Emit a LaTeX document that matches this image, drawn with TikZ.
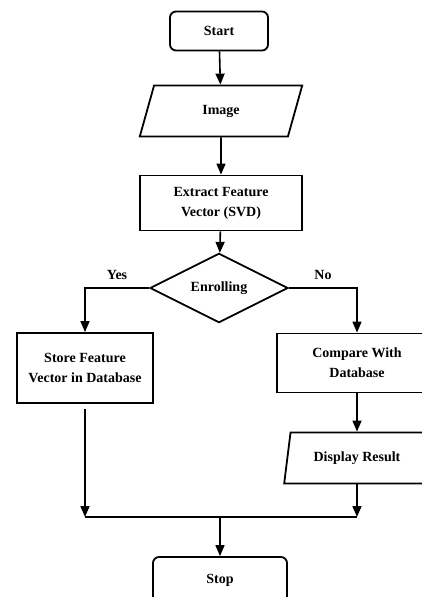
\documentclass[tikz,border=0pt]{standalone}
\usepackage{fontspec}
\setmainfont{Liberation Serif}
\usepackage{tikz}
\usetikzlibrary{positioning, arrows.meta, shapes.geometric}

\begin{document}
\begin{tikzpicture}[x=1pt, y=-1pt,
    every node/.style={font=\fontsize{14}{20}\selectfont\bfseries, align=center, inner sep=0pt},
    startstop/.style={draw, line width=1.8pt, rounded corners=6pt, rectangle},
    process/.style={draw, line width=1.8pt, rectangle},
    io/.style={draw, line width=1.8pt, trapezium, trapezium left angle=72, trapezium right angle=108, trapezium stretches=true},
    decision/.style={draw, line width=1.8pt, diamond},
    arrow/.style={line width=1.6pt, -{Triangle[length=11pt, width=9pt]}},
    line/.style={line width=1.6pt}]
    \useasboundingbox (0, 0) rectangle (422, 597);
    \clip (0, 0) rectangle (422, 597);

    % boxes
    \node[startstop, minimum width=98, minimum height=39] (start) at (219, 31) {Start};
    \node[io, minimum width=163, minimum height=51] (image) at (221, 111) {Image};
    \node[process, minimum width=162, minimum height=55] (extract) at (221, 203) {Extract Feature\\Vector (SVD)};
    \node[decision, minimum width=138, minimum height=60] (enroll) at (219, 288) {Enrolling};
    \node[process, minimum width=136, minimum height=70] (store) at (85, 368) {Store Feature\\Vector in Database};
    \node[process, minimum width=160, minimum height=59] (compare) at (357, 363) {Compare With\\Database};
    \node[io, minimum width=146, minimum height=51] (display) at (357, 458) {Display Result};
    \node[startstop, minimum width=134, minimum height=46] (stop) at (220, 580) {Stop};

    \coordinate (joinL) at (85, 517);
    \coordinate (joinR) at (357, 517);
    \coordinate (join) at (220, 517);

    % connectors
    \draw[arrow] (start) -- (image);
    \draw[arrow] (image) -- (extract);
    \draw[arrow] (extract) -- (enroll);
    \draw[arrow] (enroll.west) -| node[pos=0.25, above=8pt] (yes) {Yes} (store.north);
    \draw[arrow] (enroll.east) -| node[pos=0.25, above=8pt] (no) {No} (compare.north);
    \draw[arrow] (compare) -- (display);
    \draw[arrow] ([yshift=-5pt]store.south) -- (joinL);
    \draw[arrow] (display) -- (joinR);
    \draw[line] (joinL) -- (joinR);
    \draw[arrow] (join) -- (stop);
\end{tikzpicture}
\end{document}
